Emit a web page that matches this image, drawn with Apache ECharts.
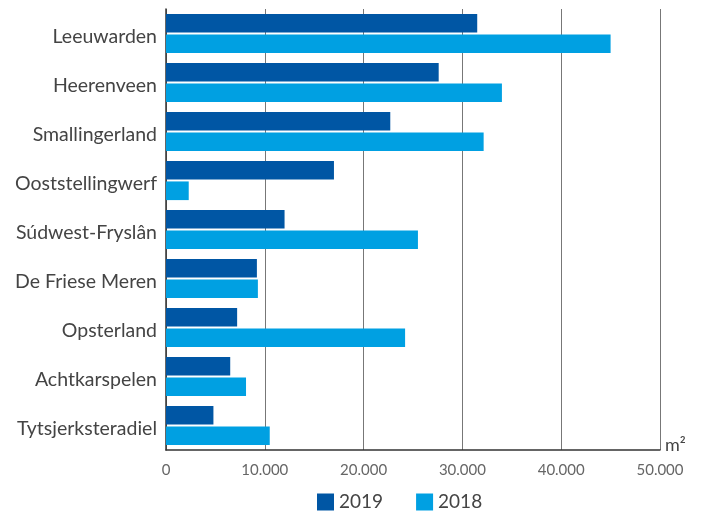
<!DOCTYPE html>
<html>
<head>
<meta charset="utf-8">
<script src="https://cdn.jsdelivr.net/npm/echarts@6/dist/echarts.min.js"></script>
<style>html,body{margin:0;padding:0;background:#fff}#c{width:706px;height:512px}</style>
</head>
<body>
<div id="c"></div>
<script>
const categories = ['Leeuwarden','Heerenveen','Smallingerland','Ooststellingwerf','Súdwest-Fryslân','De Friese Meren','Opsterland','Achtkarspelen','Tytsjerksteradiel'];
const values2019 = [31500, 27600, 22700, 17000, 12000, 9200, 7200, 6500, 4800];
const values2018 = [45000, 34000, 32150, 2300, 25500, 9300, 24200, 8100, 10500];
const xTicks = [0, 10000, 20000, 30000, 40000, 50000];

const fmt = v => String(v).replace(/\B(?=(\d{3})+(?!\d))/g, '.');
const chart = echarts.init(document.getElementById('c'));
chart.setOption({
  animation: false,
  grid: {left: 166, right: 46, top: 9, bottom: 62, containLabel: false},
  legend: {
    data: ['2019', '2018'], top: 492, left: 317,
    itemWidth: 17, itemHeight: 17, itemGap: 33, padding: 0,
    icon: 'rect',
    textStyle: {fontSize: 19, lineHeight: 20, color: '#444', fontFamily: 'Lato'}
  },
  xAxis: {
    type: 'value', min: xTicks[0], max: xTicks[xTicks.length - 1], interval: 10000,
    name: 'm²', nameLocation: 'end', nameGap: 5,
    nameTextStyle: {fontSize: 18, color: '#444', fontFamily: 'Lato', verticalAlign: 'bottom', padding: [0, 0, -4, 0]},
    axisLine: {show: true, lineStyle: {color: '#333', width: 1.5}},
    axisTick: {show: false},
    axisLabel: {formatter: fmt, fontSize: 15, color: '#666', fontFamily: 'Lato', margin: 13},
    splitLine: {show: true, lineStyle: {color: '#777', width: 1}}
  },
  yAxis: {
    type: 'category', data: categories, inverse: true,
    axisLine: {show: true, lineStyle: {color: '#333', width: 1.5}},
    axisTick: {show: false},
    axisLabel: {
      margin: 9,
      formatter: v => '{a|' + v + '}',
      rich: {a: {fontSize: 19.5, color: '#444', fontFamily: 'Lato', padding: [7, 0, 0, 0]}}
    }
  },
  series: [
    {name: '2019', type: 'bar', data: values2019, itemStyle: {color: '#0056a4'}, barGap: '10%', barCategoryGap: '20%'},
    {name: '2018', type: 'bar', data: values2018, itemStyle: {color: '#00a0e2'}, barGap: '10%', barCategoryGap: '20%'}
  ]
});
</script>
</body>
</html>
